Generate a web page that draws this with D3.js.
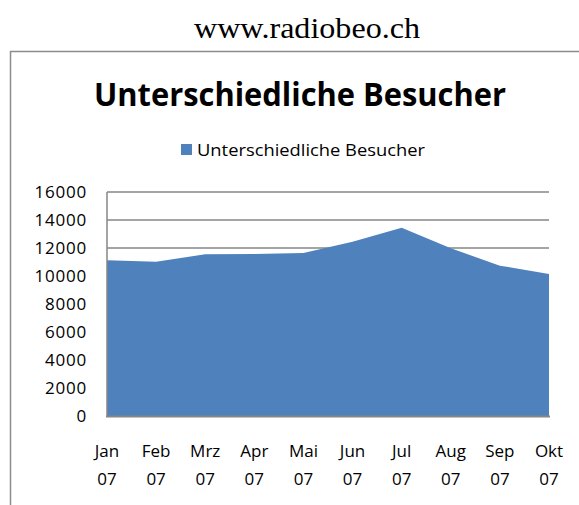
<!DOCTYPE html>
<html><head><meta charset="utf-8">
<script src="https://cdn.jsdelivr.net/npm/d3@7"></script>
<style>html,body{margin:0;padding:0;background:#fff;}svg{display:block;}</style>
</head><body>
<script>
const months = ["Jan","Feb","Mrz","Apr","Mai","Jun","Jul","Aug","Sep","Okt"];
const years = ["07","07","07","07","07","07","07","07","07","07"];
const visitors = [11120, 11020, 11550, 11570, 11640, 12450, 13450, 11980, 10740, 10140];
const yTicks = [0,2000,4000,6000,8000,10000,12000,14000,16000];
const seriesName = "Unterschiedliche Besucher";
const chartTitle = "Unterschiedliche Besucher";
const siteTitle = "www.radiobeo.ch";

const W = 579, H = 505;
const svg = d3.select("body").append("svg").attr("width", W).attr("height", H);
const font = "'Open Sans', 'DejaVu Sans', sans-serif";

svg.append("text").attr("x", 307).attr("y", 38).attr("text-anchor","middle")
  .attr("font-family","'Liberation Serif', 'Times New Roman', serif").attr("font-size", 29)
  .attr("textLength", 226).attr("lengthAdjust","spacingAndGlyphs")
  .attr("fill","#000").text(siteTitle);

svg.append("rect").attr("x", 10.5).attr("y", 51.5).attr("width", 600).attr("height", 500)
  .attr("fill","none").attr("stroke","#8c8c8c").attr("stroke-width", 1.5);

svg.append("text").attr("x", 300).attr("y", 106).attr("text-anchor","middle")
  .attr("font-family", font).attr("font-weight","bold").attr("font-size", 33)
  .attr("textLength", 412).attr("lengthAdjust","spacingAndGlyphs")
  .attr("fill","#000").text(chartTitle);

// legend
svg.append("rect").attr("x", 181).attr("y", 144).attr("width", 11).attr("height", 11).attr("fill","#4F81BD");
svg.append("text").attr("x", 197).attr("y", 155.5).attr("font-family", font).attr("font-size", 17)
  .attr("textLength", 228).attr("lengthAdjust","spacingAndGlyphs")
  .attr("fill","#000").text(seriesName);

const x = d3.scalePoint().domain(d3.range(months.length)).range([107, 549]);
const y = d3.scaleLinear().domain([0, 16000]).range([416, 192]);

// gridlines
svg.append("g").selectAll("line").data(yTicks.filter(d=>d>0)).join("line")
  .attr("x1", 107).attr("x2", 549).attr("y1", d=>y(d)).attr("y2", d=>y(d))
  .attr("stroke","#868686").attr("stroke-width", 1.3);

// area
const area = d3.area().x((d,i)=>x(i)).y0(y(0)).y1(d=>y(d));
svg.append("path").datum(visitors).attr("d", area).attr("fill","#4F81BD");

// axes lines
svg.append("line").attr("x1",107).attr("x2",107).attr("y1",192).attr("y2",417)
  .attr("stroke","#868686").attr("stroke-width",1.5);
svg.append("line").attr("x1",106).attr("x2",550).attr("y1",416.5).attr("y2",416.5)
  .attr("stroke","#868686").attr("stroke-width",2);

// y labels
svg.append("g").selectAll("text").data(yTicks).join("text")
  .attr("x", 87).attr("y", d=>y(d)).attr("dy","0.36em").attr("text-anchor","end")
  .attr("font-family", font).attr("font-size", 17).attr("letter-spacing", 0.8)
  .attr("fill","#000").text(d=>d);

// x labels
const xl = svg.append("g");
xl.selectAll("text.m").data(months).join("text").attr("class","m")
  .attr("x",(d,i)=>x(i)).attr("y",457).attr("text-anchor","middle")
  .attr("font-family", font).attr("font-size", 17).attr("fill","#000").text(d=>d);
xl.selectAll("text.yr").data(years).join("text").attr("class","yr")
  .attr("x",(d,i)=>x(i)).attr("y",484.5).attr("text-anchor","middle")
  .attr("font-family", font).attr("font-size", 17).attr("fill","#000").text(d=>d);
</script>
</body></html>
